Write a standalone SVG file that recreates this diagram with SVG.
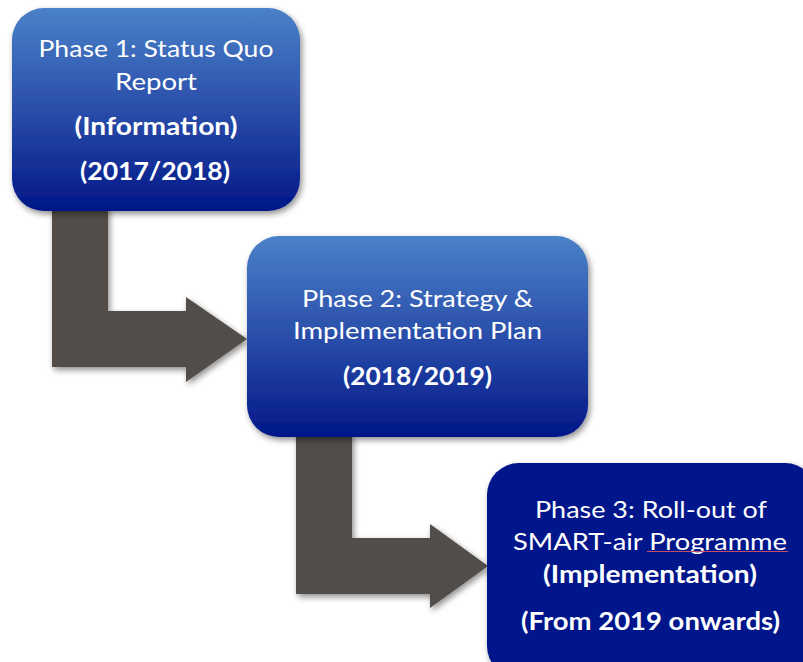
<svg xmlns="http://www.w3.org/2000/svg" width="803" height="662" viewBox="0 0 803 662">
<defs>
<linearGradient id="g" x1="0" y1="0" x2="0" y2="1">
<stop offset="0" stop-color="#4a81c8"/>
<stop offset="0.5" stop-color="#2a4eaa"/>
<stop offset="1" stop-color="#011788"/>
</linearGradient>
<filter id="sh" x="-10%" y="-10%" width="125%" height="130%">
<feGaussianBlur in="SourceAlpha" stdDeviation="3"/>
<feOffset dx="2" dy="3" result="b"/>
<feComponentTransfer><feFuncA type="linear" slope="0.45"/></feComponentTransfer>
<feMerge><feMergeNode/><feMergeNode in="SourceGraphic"/></feMerge>
</filter>
</defs>
<style>
.t{font-family:Lato,"Open Sans",sans-serif;font-size:24px;fill:#ffffff;text-anchor:middle}
.b{font-weight:bold}
.a{fill:#534e49}
</style>
<rect width="803" height="662" fill="#ffffff"/>
<g id="connectors" filter="url(#sh)">
<path class="a" d="M52,205 H108 V311 H186 V297 L247,339 L186,382 V367 H52 Z"/>
<path class="a" d="M296,432 H352 V538 H430 V524 L488,566 L430,608 V594 H296 Z"/>
</g>
<g id="phase1">
<rect x="12" y="8" width="288" height="203" rx="32" fill="url(#g)" filter="url(#sh)"/>
<text class="t" x="156" y="57" textLength="235" lengthAdjust="spacingAndGlyphs">Phase 1: Status Quo</text>
<text class="t" x="156" y="90" textLength="82" lengthAdjust="spacingAndGlyphs">Report</text>
<text class="t b" x="156" y="135" textLength="163" lengthAdjust="spacingAndGlyphs">(Information)</text>
<text class="t b" x="155" y="180" textLength="150" lengthAdjust="spacingAndGlyphs">(2017/2018)</text>
</g>
<g id="phase2">
<rect x="247" y="236" width="341" height="201" rx="32" fill="url(#g)" filter="url(#sh)"/>
<text class="t" x="417.5" y="307" textLength="231" lengthAdjust="spacingAndGlyphs">Phase 2: Strategy &amp;</text>
<text class="t" x="417.5" y="339" textLength="249" lengthAdjust="spacingAndGlyphs">Implementation Plan</text>
<text class="t b" x="417.5" y="385" textLength="149" lengthAdjust="spacingAndGlyphs">(2018/2019)</text>
</g>
<g id="phase3">
<rect x="487" y="463" width="330" height="215" rx="32" fill="#02168a" filter="url(#sh)"/>
<text class="t" x="651" y="518" textLength="232" lengthAdjust="spacingAndGlyphs">Phase 3: Roll-out of</text>
<text class="t" x="650" y="550" textLength="274" lengthAdjust="spacingAndGlyphs">SMART-air Programme</text>
<line x1="647" y1="551.5" x2="788" y2="551.5" stroke="#c0506a" stroke-width="1"/>
<text class="t b" x="650" y="583" textLength="214" lengthAdjust="spacingAndGlyphs">(Implementation)</text>
<text class="t b" x="650.5" y="630" textLength="259" lengthAdjust="spacingAndGlyphs">(From 2019 onwards)</text>
</g>
</svg>
